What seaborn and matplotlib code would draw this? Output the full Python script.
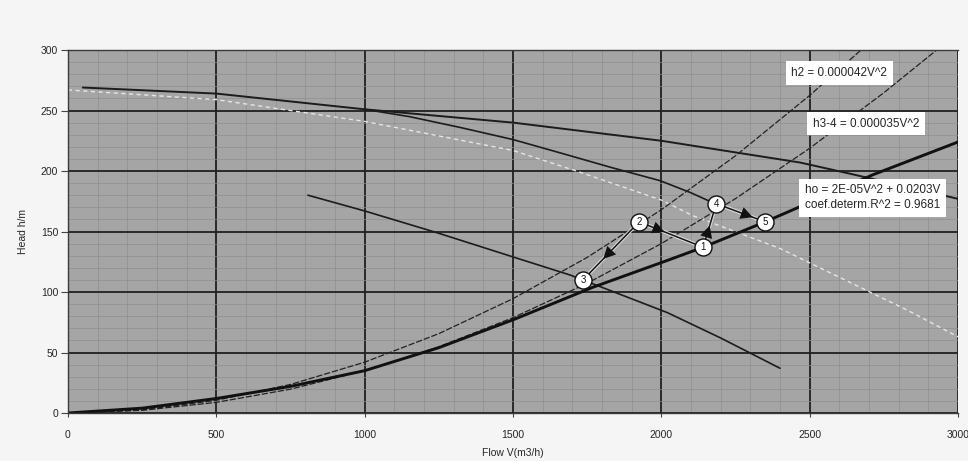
import matplotlib
matplotlib.use("Agg")
import matplotlib.pyplot as plt
import matplotlib.patheffects as pe
import seaborn as sns
import numpy as np

# ---- data ----
pump_a_v = [50, 500, 1000, 1500, 2000, 2468, 2650, 3000]
pump_a_h = [269, 264, 251, 240, 225, 207, 197, 177]

pump_b_v = [1000, 1150, 1322, 1500, 1659, 1830, 1996, 2100, 2181]
pump_b_h = [251, 245, 236, 226, 215, 203, 192, 182, 173]

pump_c_v = [809, 1000, 1244, 1500, 1693, 2020, 2200, 2400]
pump_c_h = [180, 167, 149, 129, 114, 83, 62, 37]

white_v = [0, 500, 1000, 1500, 1726, 2000, 2107, 2400, 2829, 3000]
white_h = [267, 259, 241, 217, 199, 176, 163, 136, 85, 63]

ho_v = [0, 250, 500, 750, 1000, 1250, 1500, 1770, 2019, 2141, 2350, 2500, 2714, 3000]
ho_h = [0, 4, 12, 22, 35, 54, 77, 104, 126, 137, 158, 174, 197, 224]

h2_v = [0, 250, 500, 750, 1000, 1250, 1500, 1750, 2000, 2250, 2500, 2673]
h2_h = [0, 2.6, 10.5, 23.6, 42, 65.6, 94.5, 128.6, 168, 212.6, 262.5, 300]

h34_v = [0, 250, 500, 750, 1000, 1250, 1500, 1750, 2000, 2250, 2500, 2750, 2928]
h34_h = [0, 2.2, 8.8, 19.7, 35, 54.7, 78.8, 107.2, 140, 177.2, 218.8, 264.7, 300]

pt_labels = ["1", "2", "3", "4", "5"]
pt_v = [2141, 1925, 1736, 2185, 2350]
pt_h = [137, 158, 110, 173, 158]

# arrows: (from, to, where the head sits along the segment)
arrows = [("2", "3", 0.64), ("2", "1", 0.40), ("1", "4", 0.50), ("4", "5", 0.75)]

x_ticks = [0, 500, 1000, 1500, 2000, 2500, 3000]
y_ticks = [0, 50, 100, 150, 200, 250, 300]

sns.set_style("ticks")
plt.rcParams["font.family"] = ["Liberation Sans", "DejaVu Sans"]

fig = plt.figure(figsize=(9.68, 4.61), dpi=100, facecolor="#f5f5f5")
ax = fig.add_axes([0.0702, 0.1041, 0.9195, 0.7874])
ax.set_facecolor("#a5a5a5")

# fine mesh like the scanned grid paper
ax.set_xticks(np.arange(0, 3001, 100), minor=True)
ax.set_yticks(np.arange(0, 301, 10), minor=True)
ax.grid(which="minor", color="#8f8f8f", lw=0.5)
ax.grid(which="major", color="#202020", lw=1.3)
ax.tick_params(which="minor", length=0)

# curves
sns.lineplot(x=white_v, y=white_h, ax=ax, color="#e6e6e6", lw=1.0,
             linestyle=(0, (3, 2.5)), estimator=None, sort=False)
sns.lineplot(x=pump_a_v, y=pump_a_h, ax=ax, color="#1c1c1c", lw=1.4,
             estimator=None, sort=False)
sns.lineplot(x=pump_b_v, y=pump_b_h, ax=ax, color="#1c1c1c", lw=1.2,
             estimator=None, sort=False)
sns.lineplot(x=pump_c_v, y=pump_c_h, ax=ax, color="#1c1c1c", lw=1.2,
             estimator=None, sort=False)
sns.lineplot(x=h2_v, y=h2_h, ax=ax, color="#222222", lw=0.9,
             linestyle=(0, (5, 1.5)), estimator=None, sort=False)
sns.lineplot(x=h34_v, y=h34_h, ax=ax, color="#222222", lw=0.9,
             linestyle=(0, (5, 1.5)), estimator=None, sort=False)
sns.lineplot(x=ho_v, y=ho_h, ax=ax, color="#111111", lw=2.1,
             estimator=None, sort=False)

# connecting arrows between operating points
pos = {lab: (v, h) for lab, v, h in zip(pt_labels, pt_v, pt_h)}
for a, b, f in arrows:
    (x0, y0), (x1, y1) = pos[a], pos[b]
    ax.plot([x0, x1], [y0, y1], color="#151515", lw=1.1, zorder=4,
            path_effects=[pe.withStroke(linewidth=2.6, foreground="#dcdcdc")])
    ax.annotate("", xy=(x0 + f * (x1 - x0), y0 + f * (y1 - y0)), xytext=(x0, y0),
                arrowprops=dict(arrowstyle="-|>", color="#111111", lw=0,
                                mutation_scale=22, shrinkA=0, shrinkB=0),
                zorder=5)

sns.scatterplot(x=pt_v, y=pt_h, ax=ax, s=150, color="white", edgecolor="#111111",
                linewidth=1.0, zorder=6)
for lab, v, h in zip(pt_labels, pt_v, pt_h):
    ax.text(v, h, lab, ha="center", va="center", fontsize=7, zorder=7, color="#111111")

# equation labels
box = dict(facecolor="white", edgecolor="none", pad=4)
ax.text(2600, 281, "h2 = 0.000042V^2", fontsize=8.5, ha="center", va="center", bbox=box, zorder=8)
ax.text(2690, 239, "h3-4 = 0.000035V^2", fontsize=8.5, ha="center", va="center", bbox=box, zorder=8)
ax.text(2712, 178, "ho = 2E-05V^2 + 0.0203V\ncoef.determ.R^2 = 0.9681", fontsize=8.5,
        ha="center", va="center", bbox=box, zorder=8, linespacing=1.35)

ax.set_xlim(0, 3000)
ax.set_ylim(0, 300)
ax.set_xticks(x_ticks)
ax.set_yticks(y_ticks)
ax.tick_params(axis="x", which="major", length=3, pad=9, labelsize=7.5, color="#444444")
ax.tick_params(axis="y", which="major", length=5, pad=2, labelsize=7.5, color="#444444")
for s in ax.spines.values():
    s.set_color("#3a3a3a")
    s.set_linewidth(1.0)
ax.spines["right"].set_visible(False)

ax.set_xlabel("Flow V(m3/h)", fontsize=7.5, labelpad=6)
ax.set_ylabel("Head h/m", fontsize=7.5, labelpad=9)

fig.savefig("out.png", dpi=100, facecolor=fig.get_facecolor())
